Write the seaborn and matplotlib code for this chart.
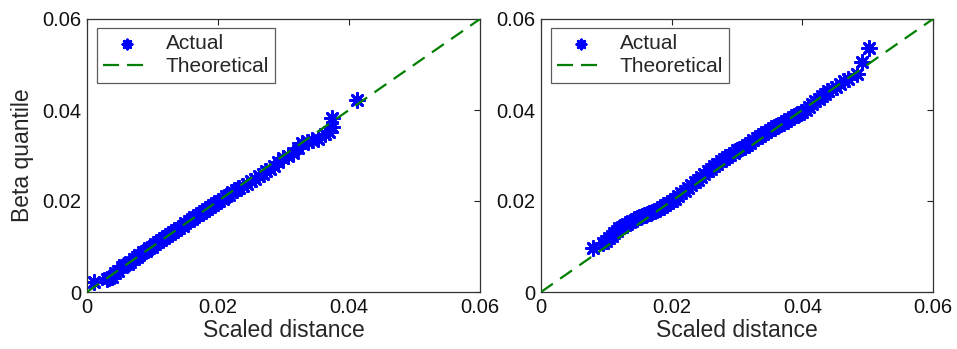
import matplotlib
matplotlib.use("Agg")
import matplotlib.pyplot as plt
import seaborn as sns
import pandas as pd

# Q-Q data: sorted scaled distances against beta quantiles
left_dist = [0.0011, 0.0030, 0.0034, 0.0038, 0.0043, 0.0048, 0.0053, 0.0057, 0.0062, 0.0066,
             0.0071, 0.0076, 0.0080, 0.0085, 0.0090, 0.0094, 0.0099, 0.0104, 0.0108, 0.0113,
             0.0118, 0.0122, 0.0127, 0.0132, 0.0136, 0.0141, 0.0146, 0.0150, 0.0155, 0.0160,
             0.0164, 0.0169, 0.0174, 0.0178, 0.0183, 0.0188, 0.0192, 0.0197, 0.0202, 0.0207,
             0.0212, 0.0217, 0.0222, 0.0227, 0.0232, 0.0238, 0.0244, 0.0250, 0.0256, 0.0262,
             0.0268, 0.0274, 0.0280, 0.0286, 0.0292, 0.0299, 0.0307, 0.0315, 0.0322, 0.0328,
             0.0337, 0.0343, 0.0352, 0.0363, 0.0370, 0.0374, 0.0374, 0.0412]
left_beta = [0.0022, 0.0028, 0.0031, 0.0034, 0.0041, 0.0046, 0.0055, 0.0059, 0.0062, 0.0067,
             0.0072, 0.0077, 0.0082, 0.0087, 0.0091, 0.0096, 0.0100, 0.0105, 0.0110, 0.0114,
             0.0119, 0.0124, 0.0128, 0.0132, 0.0137, 0.0141, 0.0146, 0.0151, 0.0155, 0.0160,
             0.0164, 0.0169, 0.0173, 0.0178, 0.0182, 0.0187, 0.0191, 0.0196, 0.0201, 0.0205,
             0.0210, 0.0214, 0.0220, 0.0224, 0.0228, 0.0233, 0.0238, 0.0243, 0.0249, 0.0254,
             0.0260, 0.0265, 0.0270, 0.0278, 0.0286, 0.0295, 0.0300, 0.0305, 0.0316, 0.0327,
             0.0330, 0.0334, 0.0337, 0.0348, 0.0352, 0.0362, 0.0382, 0.0422]

right_dist = [0.0079, 0.0095, 0.0100, 0.0104, 0.0108, 0.0112, 0.0116, 0.0120, 0.0124, 0.0128,
              0.0132, 0.0136, 0.0140, 0.0145, 0.0150, 0.0155, 0.0160, 0.0165, 0.0170, 0.0175,
              0.0180, 0.0185, 0.0190, 0.0195, 0.0200, 0.0205, 0.0210, 0.0215, 0.0220, 0.0225,
              0.0230, 0.0235, 0.0240, 0.0245, 0.0250, 0.0255, 0.0260, 0.0265, 0.0270, 0.0275,
              0.0280, 0.0285, 0.0290, 0.0295, 0.0300, 0.0305, 0.0310, 0.0315, 0.0320, 0.0325,
              0.0330, 0.0335, 0.0340, 0.0345, 0.0350, 0.0355, 0.0360, 0.0365, 0.0370, 0.0375,
              0.0380, 0.0385, 0.0390, 0.0395, 0.0400, 0.0405, 0.0410, 0.0415, 0.0420, 0.0425,
              0.0430, 0.0435, 0.0440, 0.0446, 0.0452, 0.0458, 0.0464, 0.0470, 0.0484, 0.0492,
              0.0502]
right_beta = [0.0096, 0.0107, 0.0113, 0.0119, 0.0124, 0.0130, 0.0134, 0.0140, 0.0143, 0.0147,
              0.0150, 0.0153, 0.0156, 0.0160, 0.0164, 0.0167, 0.0170, 0.0173, 0.0176, 0.0179,
              0.0183, 0.0187, 0.0191, 0.0195, 0.0200, 0.0205, 0.0211, 0.0217, 0.0223, 0.0229,
              0.0235, 0.0241, 0.0247, 0.0253, 0.0259, 0.0265, 0.0271, 0.0277, 0.0282, 0.0287,
              0.0292, 0.0297, 0.0302, 0.0306, 0.0311, 0.0315, 0.0319, 0.0323, 0.0328, 0.0333,
              0.0338, 0.0343, 0.0348, 0.0352, 0.0356, 0.0360, 0.0364, 0.0368, 0.0372, 0.0376,
              0.0380, 0.0384, 0.0388, 0.0392, 0.0396, 0.0401, 0.0407, 0.0413, 0.0419, 0.0425,
              0.0431, 0.0436, 0.0441, 0.0446, 0.0451, 0.0457, 0.0463, 0.0468, 0.0480, 0.0505,
              0.0536]

# Reference y = x line
theory = [0.0, 0.06]

ticks = [0.0, 0.02, 0.04, 0.06]
tick_labels = ["0", "0.02", "0.04", "0.06"]

sns.set_theme(style="white")
plt.rcParams["font.family"] = ["Liberation Sans", "DejaVu Sans"]
plt.rcParams["axes.edgecolor"] = "#222222"

fig = plt.figure(figsize=(9.57, 3.49), dpi=100)
ax1 = fig.add_axes([87 / 957, 1 - 292 / 349, 393 / 957, 273 / 349])
ax2 = fig.add_axes([541 / 957, 1 - 292 / 349, 392 / 957, 273 / 349])

panels = [(ax1, left_dist, left_beta), (ax2, right_dist, right_beta)]
for ax, dist, beta in panels:
    pts = pd.DataFrame({"dist": dist, "beta": beta})
    line = pd.DataFrame({"x": theory, "y": theory})
    sns.scatterplot(data=pts, x="dist", y="beta", ax=ax, marker=(8, 2, 0),
                    color="#0000ff", s=105, linewidth=2.0, label="Actual", zorder=2)
    sns.lineplot(data=line, x="x", y="y", ax=ax, color="#008000", linewidth=1.6,
                 dashes=False, label="Theoretical", zorder=3)
    ax.lines[-1].set_dashes((6.5, 4))
    ax.set_xlim(0, 0.06)
    ax.set_ylim(0, 0.06)
    ax.set_xticks(ticks)
    ax.set_xticklabels(tick_labels)
    ax.set_yticks(ticks)
    ax.set_yticklabels(tick_labels)
    ax.tick_params(direction="in", length=4, width=0.8, top=True, right=True,
                   labelsize=14.5, pad=4, colors="#222222", labelcolor="#111111")
    for sp in ax.spines.values():
        sp.set_linewidth(0.9)
        sp.set_color("#333333")
    ax.set_xlabel("Scaled distance", fontsize=16.5, labelpad=2)
    ax.set_ylabel("")
    leg = ax.legend(loc="upper left", bbox_to_anchor=(0.0254, 0.967), borderaxespad=0,
                    fontsize=15, frameon=True, fancybox=False, edgecolor="#333333",
                    handlelength=2.25, handletextpad=0.75, labelspacing=0.2,
                    borderpad=0.3, markerscale=0.65)
    leg.get_frame().set_linewidth(0.9)
    leg.get_lines()[-1].set_dashes((7.2, 3.6))

ax1.set_ylabel("Beta quantile", fontsize=16.5, labelpad=6)

fig.savefig("out.png", dpi=100)
